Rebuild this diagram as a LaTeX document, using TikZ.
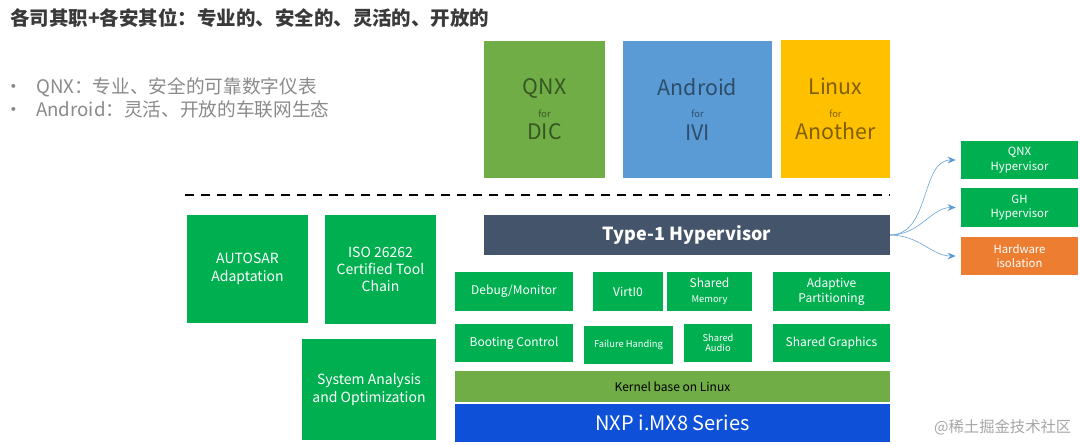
\documentclass[tikz,border=0pt]{standalone}
\usepackage{fontspec}
\setmainfont{Noto Sans CJK SC}
\usepackage{tikz}
\usetikzlibrary{arrows.meta,positioning}
\definecolor{cellgreen}{HTML}{00B050}
\definecolor{qnxgreen}{HTML}{70AD47}
\definecolor{andblue}{HTML}{5B9BD5}
\definecolor{linyellow}{HTML}{FFC000}
\definecolor{hypslate}{HTML}{44546A}
\definecolor{nxpblue}{RGB}{14,80,216}
\definecolor{hworange}{HTML}{ED7D31}
\definecolor{titlegray}{HTML}{3A3A3A}
\definecolor{bulletgray}{HTML}{8A8A8A}
\tikzset{
	x=0.75pt, y=-0.75pt,
	cell/.style={
		fill=cellgreen, inner sep=0pt, outer sep=0pt,
		anchor=north west, align=center, text=white,
		font=\fontsize{9}{11}\selectfont
	},
	sz/.style 2 args={minimum width=#1*0.75pt, minimum height=#2*0.75pt},
	osbox/.style={
		cell, text=black, text opacity=0.5,
		font=\fontsize{16}{17}\selectfont
	},
	bigcell/.style={cell, font=\fontsize{10.5}{13}\selectfont},
	note/.style={anchor=west, inner sep=0pt, text=bulletgray, font=\fontsize{14}{16}\selectfont},
	conn/.style={-{Stealth[length=6pt,width=5pt]}, andblue, thin, shorten >=4pt}
}
\newcommand{\forword}{{\fontsize{7}{8}\selectfont for}}

\begin{document}
\begin{tikzpicture}
				\useasboundingbox[fill=white] (0,0) rectangle (1080,444);
				% heading and notes
				\node[anchor=west, inner sep=0pt, text=titlegray, font=\fontsize{14.6}{16}\selectfont\bfseries] (title) at (10,18) {各司其职+各安其位：专业的、安全的、灵活的、开放的};
				\node[note] (note1) at (4,87) {\makebox[24pt][l]{\textbullet}QNX：专业、安全的可靠数字仪表};
				\node[note] (note2) at (4,109) {\makebox[24pt][l]{\textbullet}Android：灵活、开放的车联网生态};
				% guest systems
				\node[osbox, fill=qnxgreen, sz={121}{137}] (qnx) at (484,41) {QNX\\\forword\\DIC};
				\node[osbox, fill=andblue, sz={149}{137}] (android) at (623,41) {Android\\\forword\\IVI};
				\node[osbox, fill=linyellow, sz={109}{138}] (linux) at (781,40) {Linux\\\forword\\Another};
				\coordinate (dashl) at (185,195);
				\coordinate (dashr) at (890,195);
				\draw[line width=2.2pt, dash pattern=on 7pt off 5pt] (dashl) -- (dashr);
				% tool side
				\node[bigcell, sz={121}{108}] (autosar) at (187,215) {AUTOSAR\\Adaptation};
				\node[bigcell, sz={111}{109}] (iso) at (325,215) {ISO 26262\\Certified Tool\\Chain};
				\node[bigcell, sz={134}{101}] (sysana) at (302,339) {System Analysis\\and Optimization};
				% hypervisor stack
				\node[cell, fill=hypslate, sz={406}{40}, font=\fontsize{13.5}{15}\selectfont\bfseries] (hyp) at (484,215) {Type-1 Hypervisor};
				\node[cell, sz={118}{39}] (debug) at (455,272) {Debug/Monitor};
				\node[cell, sz={70}{39}] (virtio) at (593,272) {VirtI0};
				\node[cell, sz={85}{39}] (shmem) at (667,272) {Shared\\{\fontsize{7}{8}\selectfont Memory}};
				\node[cell, sz={117}{39}] (adapt) at (773,272) {Adaptive\\Partitioning};
				\node[cell, sz={118}{38}] (boot) at (455,324) {Booting Control};
				\node[cell, sz={89}{38}, font=\fontsize{7}{8}\selectfont] (fail) at (584,326) {Failure Handing};
				\node[cell, sz={68}{38}, font=\fontsize{7}{8}\selectfont] (audio) at (684,324) {Shared\\Audio};
				\node[cell, sz={117}{38}] (graphics) at (773,324) {Shared Graphics};
				\node[cell, fill=qnxgreen, text=black, sz={435}{31}] (kernel) at (455,371) {Kernel base on Linux};
				\node[cell, fill=nxpblue, sz={435}{38}, font=\fontsize{15}{16}\selectfont] (nxp) at (455,404) {NXP i.MX8 Series};
				% hypervisor choices
				\node[cell, sz={117}{38}, font=\fontsize{8.5}{11}\selectfont] (qnxh) at (961,141) {QNX\\Hypervisor};
				\node[cell, sz={117}{39}, font=\fontsize{8.5}{11}\selectfont] (ghh) at (961,188) {GH\\Hypervisor};
				\node[cell, fill=hworange, sz={117}{38}, font=\fontsize{8.5}{11}\selectfont] (hwiso) at (961,237) {Hardware\\isolation};
				\draw[conn] (hyp.east) to[out=0, in=180] (qnxh.west);
				\draw[conn] (hyp.east) to[out=0, in=180] (ghh.west);
				\draw[conn] (hyp.east) to[out=0, in=180] (hwiso.west);
				\node[anchor=east, text=black!35, font=\fontsize{11.5}{13}\selectfont] (mark) at (1076,427) {@稀土掘金技术社区};
			\end{tikzpicture}
\end{document}
